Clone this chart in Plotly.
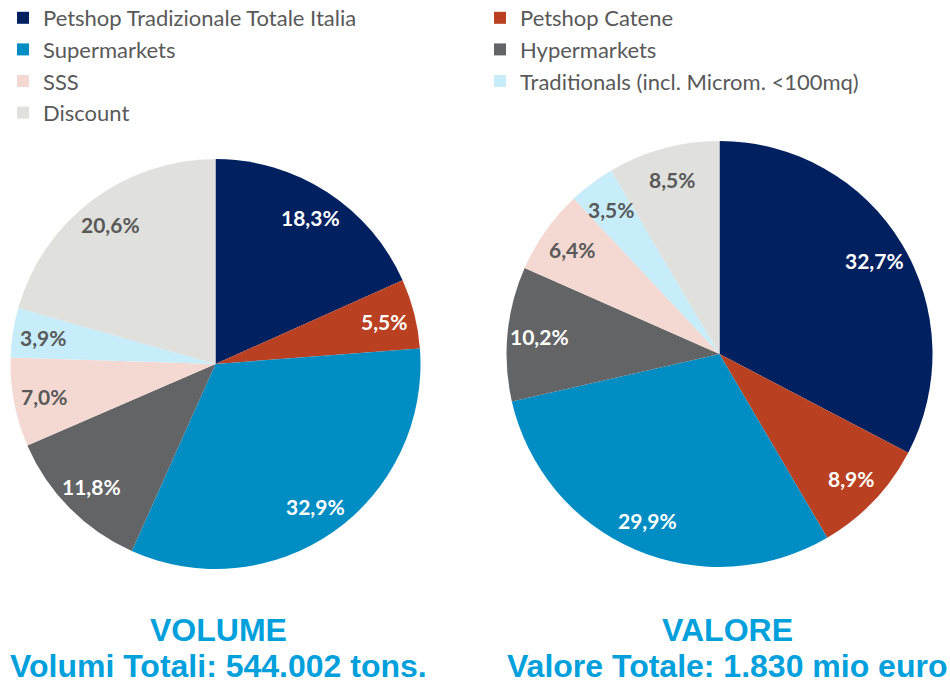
import math
import plotly.graph_objects as go

categories = ["Petshop Tradizionale Totale Italia", "Petshop Catene", "Supermarkets",
              "Hypermarkets", "SSS", "Traditionals (incl. Microm. <100mq)", "Discount"]
volume_pct = [18.3, 5.5, 32.9, 11.8, 7.0, 3.9, 20.6]
valore_pct = [32.7, 8.9, 29.9, 10.2, 6.4, 3.5, 8.5]
colors = ["#002060", "#BA4022", "#008DC4", "#636466", "#F4D9D3", "#C7ECFA", "#E0E0DC"]
text_colors = ["#FFFFFF", "#FFFFFF", "#FFFFFF", "#FFFFFF", "#595959", "#595959", "#595959"]
titles = [("VOLUME", "Volumi Totali: 544.002 tons."), ("VALORE", "Valore Totale: 1.830 mio euro")]

W, H = 950, 687
LABEL_RADIUS = 0.85  # fraction of pie radius where the value labels sit

def fmt(v):
    return f"{v:.1f}%".replace(".", ",")

def dom(cx, cy, r):
    return dict(x=[(cx - r) / W, (cx + r) / W], y=[(H - cy - r) / H, (H - cy + r) / H])

fig = go.Figure()
pies = [(volume_pct, (215.5, 364, 205), True), (valore_pct, (719.5, 354, 213), False)]
for values, (cx, cy, r), show in pies:
    fig.add_trace(go.Pie(labels=categories, values=values, textinfo="none", sort=False,
                         direction="clockwise", rotation=0,
                         marker=dict(colors=colors, line=dict(width=0)),
                         domain=dom(cx, cy, r), showlegend=show, hoverinfo="label+percent"))
    total = sum(values)
    cum = 0.0
    for v, tc in zip(values, text_colors):
        theta = 2 * math.pi * (cum + v / 2) / total
        cum += v
        px = cx + LABEL_RADIUS * r * math.sin(theta)
        py = cy - LABEL_RADIUS * r * math.cos(theta)
        fig.add_annotation(x=px / W, y=(H - py) / H, xref="paper", yref="paper",
                           text=f"<b>{fmt(v)}</b>", showarrow=False,
                           xanchor="center", yanchor="middle",
                           font=dict(family="Lato", size=21, color=tc))

for cx, (t1, t2) in zip([218, 727], titles):
    fig.add_annotation(x=cx / W, y=(H - 630) / H, xref="paper", yref="paper", text=f"<b>{t1}</b>",
                       xanchor="center", yanchor="middle",
                       showarrow=False, font=dict(family="Liberation Sans", size=32, color="#00A0DC"))
    fig.add_annotation(x=cx / W, y=(H - 666) / H, xref="paper", yref="paper", text=f"<b>{t2}</b>",
                       xanchor="center", yanchor="middle",
                       showarrow=False, font=dict(family="Liberation Sans", size=32, color="#00A0DC"))

fig.update_layout(
    width=W, height=H, margin=dict(l=0, r=0, t=0, b=0, autoexpand=False),
    paper_bgcolor="white", plot_bgcolor="white",
    legend=dict(orientation="h", x=3 / W, y=1 + 3 / H, xanchor="left", yanchor="top",
                entrywidth=432, entrywidthmode="pixels",
                font=dict(family="Lato", size=22, color="#595959"),
                traceorder="normal", itemclick=False),
)
fig.write_html("out.html", config={"displayModeBar": False},
               post_script="document.body.style.margin='0';")
